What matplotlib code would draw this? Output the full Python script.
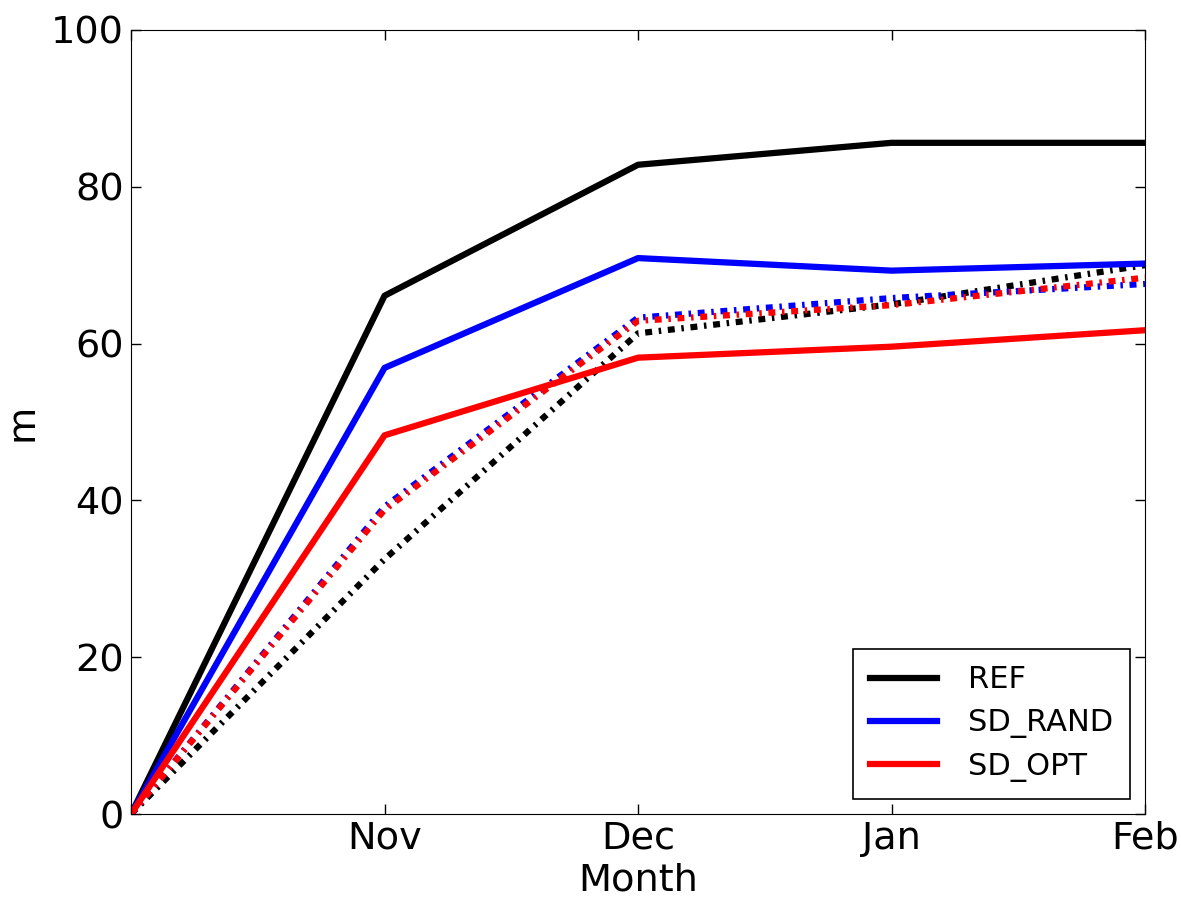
import matplotlib
matplotlib.use('Agg')
import matplotlib.pyplot as plt

# Data
months = ['', 'Nov', 'Dec', 'Jan', 'Feb']
x = [0, 1, 2, 3, 4]

ref = [0, 66.1, 82.8, 85.6, 85.6]
sd_rand = [0, 56.9, 70.9, 69.3, 70.2]
sd_opt = [0, 48.3, 58.2, 59.6, 61.7]

ref_dot = [0, 32.5, 61.3, 65.0, 70.0]
rand_dot = [0, 39.2, 63.3, 65.8, 67.6]
opt_dot = [0, 38.8, 62.9, 64.9, 68.4]

plt.rcParams['lines.scale_dashes'] = False
plt.rcParams['xtick.direction'] = 'in'
plt.rcParams['ytick.direction'] = 'in'
plt.rcParams['xtick.top'] = True
plt.rcParams['ytick.right'] = True

fig = plt.figure(figsize=(11.81, 9.06), dpi=100)
ax = fig.add_axes([0.111, 0.1015, 0.8585, 0.8655])

lw = 4.5
dash = (5, 4.8, 1.8, 4.8)
ax.plot(x, ref_dot, color='k', lw=lw, dashes=dash, dash_capstyle='butt')
ax.plot(x, rand_dot, color='b', lw=lw, dashes=dash, dash_capstyle='butt')
ax.plot(x, opt_dot, color='r', lw=lw, dashes=dash, dash_capstyle='butt')

ax.plot(x, ref, color='k', lw=lw, label='REF')
ax.plot(x, sd_rand, color='b', lw=lw, label='SD_RAND')
ax.plot(x, sd_opt, color='r', lw=lw, label='SD_OPT')

ax.set_xlim(0, 4)
ax.set_ylim(0, 100)
ax.set_xticks(x)
ax.set_xticklabels(months)
ax.set_yticks([0, 20, 40, 60, 80, 100])
ax.tick_params(labelsize=27.5, length=7, width=1, pad=5)
ax.set_xlabel('Month', fontsize=27.5, labelpad=4)
ax.set_ylabel('m', fontsize=27.5, labelpad=8)

leg = ax.legend(loc='lower right', fontsize=22, fancybox=False, framealpha=1,
                edgecolor='k', handlelength=2.2, borderpad=0.55, labelspacing=0.45,
                borderaxespad=0.5, handletextpad=1.0)
leg.get_frame().set_linewidth(1.2)

plt.savefig('out.png', dpi=100)
